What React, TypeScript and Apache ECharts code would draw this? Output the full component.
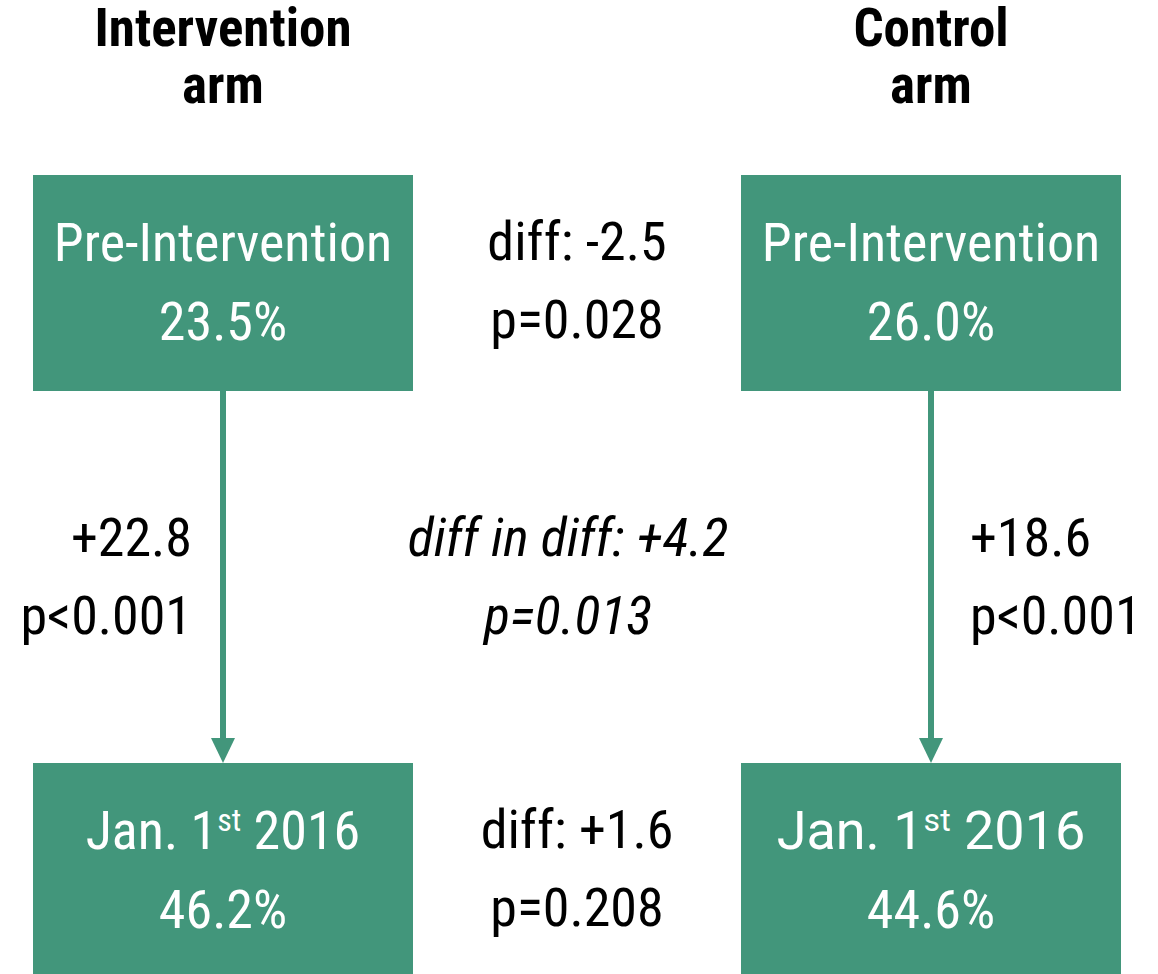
import React, { useEffect, useRef } from "react";
import * as echarts from "echarts";

// ---- data ----
const arms = ["Intervention", "Control"];
const armSuffix = "arm";
const periods = ["Pre-Intervention", "Jan. 1st 2016"];
const preValues = [23.5, 26.0];
const postValues = [46.2, 44.6];
const withinDiffs = [22.8, 18.6];
const withinP = ["<0.001", "<0.001"];
const betweenDiffs = [-2.5, 1.6];
const betweenP = ["=0.028", "=0.208"];
const didValue = 4.2;
const didP = "=0.013";

const GREEN = "#42967b";
const FONT = "'Roboto Condensed', Roboto, sans-serif";
const FONT_WIDE = "Roboto, sans-serif";
const FS = 54;

const signed = (v: number) => (v > 0 ? "+" : "") + v.toFixed(1);

function txt(
  x: number,
  baseline: number,
  text: string,
  o: {
    align?: string;
    color?: string;
    weight?: any;
    italic?: boolean;
    size?: number;
    rich?: any;
    font?: string;
    lineHeight?: number;
  } = {}
) {
  const size = o.size ?? FS;
  return {
    type: "text",
    x,
    y: baseline - size * 0.36,
    style: {
      text,
      fill: o.color ?? "#000",
      fontFamily: o.font ?? FONT,
      fontSize: size,
      fontWeight: o.weight ?? "normal",
      fontStyle: o.italic ? "italic" : "normal",
      align: o.align ?? "center",
      verticalAlign: "middle",
      lineHeight: o.lineHeight,
      rich: o.rich,
    },
  };
}

export default function App() {
  const ref = useRef<HTMLDivElement>(null);
  useEffect(() => {
    if (!ref.current) return;
    const chart = echarts.init(ref.current, undefined, { renderer: "svg" });
    const colX = [223, 931];
    const midX = 577;
    const boxW = 380;
    const boxTop = [175, 763];
    const boxH = [216, 230];
    const elements: any[] = [];
    const supRich = (font: string) => ({
      s: { fontSize: 32, fontFamily: font, fill: "#fff", verticalAlign: "top", padding: [0, 0, 18, 0] },
    });
    const fmtPeriod = (p: string) => p.replace(/(\d)(st|nd|rd|th)\b/, "$1{s|$2}");

    arms.forEach((arm, i) => {
      const cx = colX[i];
      // titles
      elements.push(txt(cx, 47, arm, { weight: "bold", size: 53, lineHeight: 42 }));
      elements.push(txt(cx, 104, armSuffix, { weight: "bold", size: 53, lineHeight: 42 }));
      // boxes
      [preValues, postValues].forEach((vals, j) => {
        elements.push({
          type: "rect",
          shape: { x: cx - boxW / 2, y: boxTop[j], width: boxW, height: boxH[j] },
          style: { fill: GREEN },
        });
        const font = i === 1 && j === 1 ? FONT_WIDE : FONT;
        elements.push(
          txt(cx, boxTop[j] + 87, fmtPeriod(periods[j]), { color: "#fff", rich: supRich(font), font })
        );
        elements.push(txt(cx, boxTop[j] + 166, vals[i].toFixed(1) + "%", { color: "#fff" }));
      });
      // arrow
      const y0 = boxTop[0] + boxH[0];
      const y1 = boxTop[1];
      elements.push({
        type: "rect",
        shape: { x: cx - 3, y: y0, width: 6, height: y1 - y0 - 22 },
        style: { fill: GREEN },
      });
      elements.push({
        type: "polygon",
        shape: { points: [[cx - 12, y1 - 25], [cx + 12, y1 - 25], [cx, y1]] },
        style: { fill: GREEN },
      });
      // within-arm change
      const align = i === 0 ? "right" : "left";
      const tx = i === 0 ? 192 : 970;
      elements.push(txt(tx, 557, signed(withinDiffs[i]), { align }));
      elements.push(txt(tx, 635, "p" + withinP[i], { align }));
    });

    // between-arm diffs
    betweenDiffs.forEach((d, j) => {
      elements.push(txt(midX, boxTop[j] + 86, "diff: " + signed(d)));
      elements.push(txt(midX, boxTop[j] + 164, "p" + betweenP[j]));
    });
    // diff in diff
    elements.push(txt(568, 557, "diff in diff: " + signed(didValue), { italic: true }));
    elements.push(txt(568, 635, "p" + didP, { italic: true }));

    chart.setOption({
      animation: false,
      backgroundColor: "#fff",
      graphic: { elements },
    });
    return () => chart.dispose();
  }, []);
  return (
    <div
      ref={ref}
      style={{ position: "absolute", left: 0, top: 0, width: 1158, height: 974 }}
    />
  );
}
